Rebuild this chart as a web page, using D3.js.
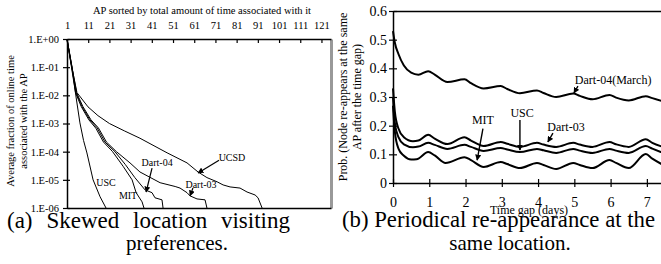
<!doctype html>
<html lang="en">
<head>
<meta charset="utf-8">
<title>Skewed location visiting / periodical re-appearance</title>
<script src="https://d3js.org/d3.v7.min.js"></script>
<style>
  body { margin: 0; background: #fff; }
  svg { display: block; font-family: "Liberation Serif", "Times New Roman", serif; }
</style>
</head>
<body>
<div id="chart"></div>
<script>
// ---- (a) data: AP rank -> average fraction of online time ----
const rankTicks = [1, 11, 21, 31, 41, 51, 61, 71, 81, 91, 101, 111, 121];
const fracTicks = [1, 1e-1, 1e-2, 1e-3, 1e-4, 1e-5, 1e-6];
const fracTickLabels = ["1.E+00", "1.E-01", "1.E-02", "1.E-03", "1.E-04", "1.E-05", "1.E-06"];

const rankUSC = [[1,1],[3.4,0.1],[5.2,9.5e-3],[7.1,1.05e-3],[8.8,2.5e-4],[10.4,9e-5],[13.3,1e-5],[16.6,2.5e-6],[19.4,1e-6]];
const rankMIT = [[1,1],[2.8,0.14],[5.0,0.0125],[7.7,4e-3],[11.3,1.35e-3],[14.6,6.8e-4],[18.2,2.2e-4],[22.5,1e-4],[27.5,3e-5],[31.7,1e-5],[33.6,3.5e-6],[36.4,1.65e-6],[37.3,1e-6]];
const rankDart04 = [[1,1],[2.9,0.14],[5.25,0.0125],[8.1,4e-3],[11.8,1.35e-3],[15.2,7e-4],[18.9,2.2e-4],[23.6,1e-4],[28.5,3.5e-5],[33,1.2e-5],[37.8,4.4e-6],[41.1,3.5e-6],[42.5,2.3e-6],[45.8,1.95e-6],[46.3,1e-6]];
const rankDart03 = [[1,1],[3.0,0.14],[5.5,0.0125],[8.5,4e-3],[12.3,1.35e-3],[15.8,7e-4],[19.6,2.2e-4],[24.3,1e-4],[30.7,4e-5],[35.4,1.9e-5],[44.9,7.9e-6],[52,5.8e-6],[54.3,5.1e-6],[57.6,3.5e-6],[59,2.7e-6],[62.3,2.1e-6],[66.1,1.95e-6],[67,1e-6]];
const rankUCSD = [[1,1],[2.9,0.14],[5.7,0.0125],[10.9,3.9e-3],[15.6,1.9e-3],[21,1e-3],[28,5.5e-4],[35.4,3e-4],[48.2,9.1e-5],[57.6,4e-5],[62.8,1.9e-5],[67,1.2e-5],[71.8,8.5e-6],[74.6,6.6e-6],[77.9,5.6e-6],[82.6,5.1e-6],[85.9,3.7e-6],[89.7,2.9e-6],[91.1,2.3e-6],[93,1e-6]];

// labels: [text, x, y] and arrows: [x1, y1, x2, y2] in data units
const rankLabels = [["USC", 19.4, 7.8e-6], ["MIT", 29.8, 2.7e-6], ["Dart-04", 43.5, 4e-5], ["UCSD", 78.8, 6e-5], ["Dart-03", 64.2, 7e-6]];
const rankArrows = [[41.1, 2.6e-5, 38.3, 3.7e-6], [72.7, 5e-5, 62.8, 1.75e-5], [60.4, 5.1e-6, 59, 2.7e-6]];

// ---- (b) data: time gap (days) -> prob. of re-appearing at same AP ----
const gapTicks = [0, 1, 2, 3, 4, 5, 6, 7];
const probTicks = [0, 0.1, 0.2, 0.3, 0.4, 0.5, 0.6];
const probTickLabels = ["0", "0.1", "0.2", "0.3", "0.4", "0.5", "0.6"];

const gapDart04March = [[0,0.53],[0.05,0.49],[0.15,0.45],[0.3,0.41],[0.5,0.385],[0.7,0.378],[0.97,0.39],[1.15,0.378],[1.5,0.352],[1.97,0.362],[2.15,0.348],[2.5,0.33],[2.97,0.338],[3.15,0.328],[3.5,0.313],[3.97,0.323],[4.15,0.314],[4.5,0.3],[4.97,0.312],[5.15,0.304],[5.5,0.292],[5.97,0.307],[6.15,0.298],[6.5,0.288],[6.97,0.303],[7.15,0.296],[7.45,0.285]];
const gapDart03 = [[0,0.33],[0.05,0.25],[0.15,0.19],[0.3,0.16],[0.55,0.146],[0.7,0.148],[0.97,0.168],[1.15,0.155],[1.5,0.136],[1.97,0.16],[2.15,0.148],[2.5,0.129],[2.97,0.143],[3.15,0.137],[3.5,0.126],[3.97,0.14],[4.15,0.134],[4.5,0.126],[4.97,0.14],[5.15,0.134],[5.5,0.126],[5.97,0.143],[6.15,0.135],[6.5,0.126],[6.97,0.153],[7.15,0.14],[7.45,0.126]];
const gapUSC = [[0,0.3],[0.05,0.21],[0.15,0.16],[0.3,0.135],[0.55,0.125],[0.7,0.127],[0.97,0.14],[1.15,0.133],[1.5,0.119],[1.97,0.133],[2.15,0.126],[2.5,0.112],[2.97,0.122],[3.15,0.117],[3.5,0.108],[3.97,0.119],[4.15,0.114],[4.5,0.105],[4.97,0.119],[5.15,0.113],[5.5,0.105],[5.97,0.119],[6.15,0.113],[6.5,0.105],[6.97,0.129],[7.15,0.12],[7.45,0.105]];
const gapMIT = [[0,0.27],[0.05,0.18],[0.15,0.12],[0.3,0.095],[0.5,0.082],[0.65,0.083],[0.97,0.108],[1.15,0.096],[1.45,0.07],[1.97,0.09],[2.15,0.08],[2.5,0.056],[2.97,0.073],[3.15,0.066],[3.5,0.052],[3.97,0.07],[4.15,0.063],[4.5,0.049],[4.97,0.07],[5.15,0.063],[5.5,0.052],[5.97,0.08],[6.15,0.07],[6.5,0.052],[6.97,0.101],[7.15,0.085],[7.45,0.063]];

const gapLabels = [["Dart-04(March)", 6.07, 0.36], ["MIT", 2.48, 0.22], ["USC", 3.56, 0.244], ["Dart-03", 4.77, 0.195]];
const gapArrows = [[5.1, 0.338, 4.99, 0.314], [2.48, 0.19, 2.32, 0.08], [3.5, 0.22, 3.5, 0.115], [4.41, 0.174, 4.27, 0.143]];

const serif = '"Liberation Serif", "Times New Roman", serif';

const svg = d3.select("#chart")
  .append("svg")
  .attr("width", 661)
  .attr("height", 264);

const defs = svg.append("defs");
defs.append("marker")
  .attr("id", "head")
  .attr("viewBox", "0 0 10 10")
  .attr("refX", 9).attr("refY", 5)
  .attr("markerWidth", 6).attr("markerHeight", 6)
  .attr("markerUnits", "userSpaceOnUse")
  .attr("orient", "auto")
  .append("path")
  .attr("d", "M0,0L10,5L0,10z")
  .attr("fill", "#000");

function styleAxis(g, size) {
  g.attr("font-family", serif).attr("font-size", size);
  g.select(".domain").attr("stroke", "#000").attr("stroke-width", 1.5);
  g.selectAll(".tick line").attr("stroke", "#000").attr("stroke-width", 1.2);
  g.selectAll(".tick text").attr("fill", "#000");
}

// ================= (a) =================
const a = {left: 67, top: 39, width: 264, height: 169};
const xa = d3.scaleLinear().domain([1, 125.5]).range([a.left, a.left + a.width]);
const ya = d3.scaleLog().domain([1e-6, 1]).range([a.top + a.height, a.top]);

// right border (grey)
svg.append("g")
  .attr("transform", `translate(${a.left + a.width},0)`)
  .call(d3.axisRight(ya).tickValues([]).tickSizeOuter(0))
  .call(g => g.select(".domain").attr("stroke", "#999").attr("stroke-width", 3));

// bottom border
svg.append("g")
  .attr("transform", `translate(0,${a.top + a.height})`)
  .call(d3.axisBottom(xa).tickValues([]).tickSizeOuter(0))
  .call(g => styleAxis(g, 10));

// top axis
svg.append("g")
  .attr("transform", `translate(0,${a.top})`)
  .call(d3.axisTop(xa).tickValues(rankTicks).tickSizeInner(-4).tickSizeOuter(0).tickPadding(10))
  .call(g => styleAxis(g, 10.5));

// left axis
svg.append("g")
  .attr("transform", `translate(${a.left},0)`)
  .call(d3.axisLeft(ya).tickValues(fracTicks).tickFormat((d, i) => fracTickLabels[i]).tickSize(4).tickPadding(4).tickSizeOuter(0))
  .call(g => styleAxis(g, 10.5))
  .call(g => g.selectAll(".tick line").attr("x1", 3));

svg.append("text")
  .attr("x", 202).attr("y", 14)
  .attr("text-anchor", "middle")
  .style("font-size", "10.5px")
  .text("AP sorted by total amount of time associated with it");

[["Average fraction of online time", 14], ["associated with the AP", 27]].forEach(([t, x]) => {
  svg.append("text")
    .attr("transform", `translate(${x},121) rotate(-90)`)
    .attr("text-anchor", "middle")
    .style("font-size", "10.5px")
    .text(t);
});

const lineA = d3.line().x(d => xa(d[0])).y(d => ya(d[1]));
[rankUSC, rankMIT, rankDart04, rankDart03, rankUCSD].forEach(s => {
  svg.append("path")
    .datum(s)
    .attr("fill", "none")
    .attr("stroke", "#000")
    .attr("stroke-width", 1)
    .attr("d", lineA);
});

svg.append("g").selectAll("text")
  .data(rankLabels)
  .join("text")
    .attr("x", d => xa(d[1]))
    .attr("y", d => ya(d[2]))
    .attr("dy", "0.35em")
    .attr("text-anchor", "middle")
    .style("font-size", "10px")
    .text(d => d[0]);

svg.append("g").selectAll("line")
  .data(rankArrows)
  .join("line")
    .attr("x1", d => xa(d[0])).attr("y1", d => ya(d[1]))
    .attr("x2", d => xa(d[2])).attr("y2", d => ya(d[3]))
    .attr("stroke", "#000").attr("stroke-width", 1.2)
    .attr("marker-end", "url(#head)");

// ================= (b) =================
const b = {left: 393, top: 11, width: 272, height: 172};
const xb = d3.scaleLinear().domain([0, 7.5]).range([b.left, b.left + b.width]);
const yb = d3.scaleLinear().domain([0, 0.6]).range([b.top + b.height, b.top]);

// top border
svg.append("g")
  .attr("transform", `translate(0,${b.top})`)
  .call(d3.axisTop(xb).tickValues([]).tickSizeOuter(0))
  .call(g => styleAxis(g, 14));

svg.append("g")
  .attr("transform", `translate(0,${b.top + b.height})`)
  .call(d3.axisBottom(xb).tickValues(gapTicks).tickFormat(d3.format("d")).tickSize(4).tickPadding(10).tickSizeOuter(0))
  .call(g => styleAxis(g, 14))
  .call(g => g.selectAll(".tick line").attr("y1", -4));

svg.append("g")
  .attr("transform", `translate(${b.left},0)`)
  .call(d3.axisLeft(yb).tickValues(probTicks).tickFormat((d, i) => probTickLabels[i]).tickSize(4).tickPadding(2).tickSizeOuter(0))
  .call(g => styleAxis(g, 14))
  .call(g => g.selectAll(".tick line").attr("x1", 4));

// sits over the tick labels, as in the original figure
svg.append("text")
  .attr("x", 529).attr("y", 214)
  .attr("text-anchor", "middle")
  .style("font-size", "12px")
  .text("Time gap (days)");

[["Prob. (Node re-appears at the same", 347], ["AP after the time gap)", 361]].forEach(([t, x]) => {
  svg.append("text")
    .attr("transform", `translate(${x},97) rotate(-90)`)
    .attr("text-anchor", "middle")
    .style("font-size", "12px")
    .text(t);
});

const lineB = d3.line().x(d => xb(d[0])).y(d => yb(d[1])).curve(d3.curveMonotoneX);
[gapDart04March, gapDart03, gapUSC, gapMIT].forEach(s => {
  svg.append("path")
    .datum(s)
    .attr("fill", "none")
    .attr("stroke", "#000")
    .attr("stroke-width", 2)
    .attr("d", lineB);
});

svg.append("g").selectAll("text")
  .data(gapLabels)
  .join("text")
    .attr("x", d => xb(d[1]))
    .attr("y", d => yb(d[2]))
    .attr("dy", "0.35em")
    .attr("text-anchor", "middle")
    .style("font-size", "12px")
    .text(d => d[0]);

svg.append("g").selectAll("line")
  .data(gapArrows)
  .join("line")
    .attr("x1", d => xb(d[0])).attr("y1", d => yb(d[1]))
    .attr("x2", d => xb(d[2])).attr("y2", d => yb(d[3]))
    .attr("stroke", "#000").attr("stroke-width", 1.4)
    .attr("marker-end", "url(#head)");

// ================= captions =================
// first lines are justified (wider word gaps) to the measured width, second lines are centred
function justified(t, x0, x1, y, size) {
  const txt = svg.append("text")
    .attr("x", x0).attr("y", y)
    .style("font-size", size + "px")
    .text(t);
  const gaps = t.split(" ").length - 1;
  const natural = txt.node().getComputedTextLength();
  if (natural < x1 - x0) txt.attr("word-spacing", (x1 - x0 - natural) / gaps);
  else txt.attr("textLength", x1 - x0).attr("lengthAdjust", "spacingAndGlyphs");
}
justified("(a) Skewed location visiting", 7, 290, 228, 23);
justified("(b) Periodical re-appearance at the", 342, 655, 227, 23);

svg.append("text")
  .attr("x", 177).attr("y", 250)
  .attr("text-anchor", "middle")
  .style("font-size", "21px")
  .text("preferences.");
svg.append("text")
  .attr("x", 510).attr("y", 250)
  .attr("text-anchor", "middle")
  .style("font-size", "21px")
  .text("same location.");
</script>
</body>
</html>
